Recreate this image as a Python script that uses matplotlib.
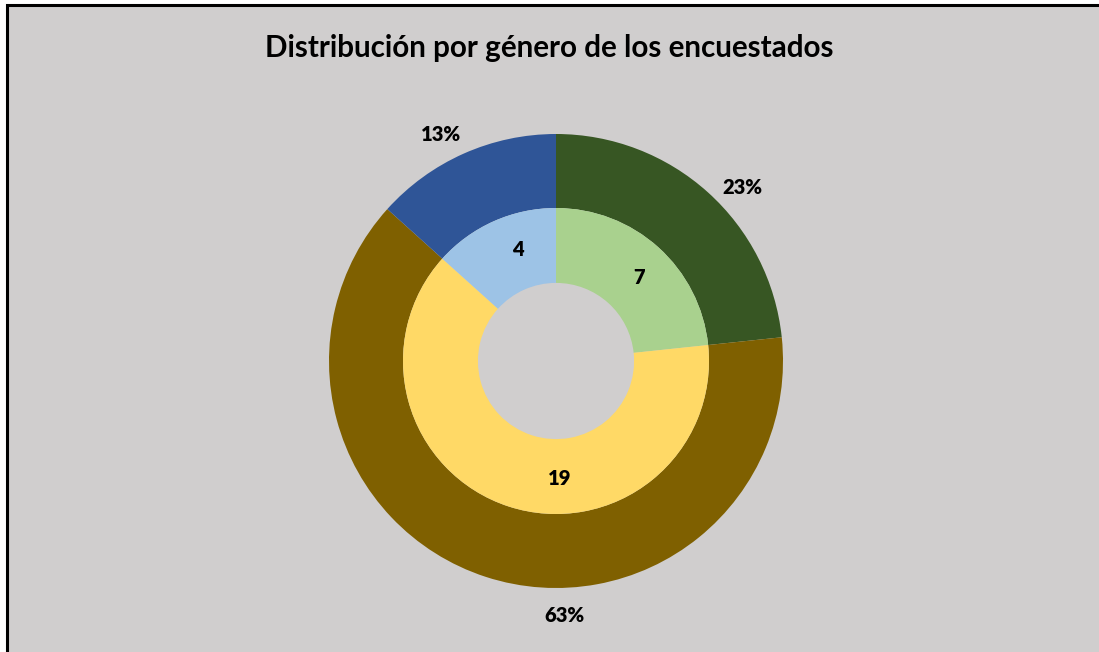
import numpy as np
import matplotlib.pyplot as plt
from matplotlib.patches import Rectangle

# Data
categories = ['Grupo 1', 'Grupo 2', 'Grupo 3']
counts = [7, 19, 4]
percent_labels = ['23%', '63%', '13%']

outer_colors = ['#375623', '#7F6000', '#2F5597']
inner_colors = ['#A9D18E', '#FFD966', '#9DC3E6']
bg = '#D0CECE'

# label placement (angle in degrees, as in the original layout)
inner_angles = [45, -88, 109]
outer_angles = [43, -88, 117]

plt.rcParams['font.family'] = ['Lato', 'DejaVu Sans']

fig = plt.figure(figsize=(10.99, 6.52), dpi=100)
fig.patch.set_facecolor('white')

# grey panel with black frame on left/top
fig.patches.append(Rectangle((6.5 / 1099, -0.1), 1.2, (652 - 5) / 652 + 0.1,
                             transform=fig.transFigure, facecolor=bg,
                             edgecolor='black', linewidth=2.2, zorder=-10))

W, H = 1099, 652
cx, cy, R = 556, 652 - 361, 227
ax = fig.add_axes([(cx - R) / W, (cy - R) / H, 2 * R / W, 2 * R / H])
ax.set_zorder(1)

ax.pie(counts, colors=outer_colors, radius=1.0, startangle=90, counterclock=False,
       wedgeprops=dict(width=0.326, linewidth=0))
ax.pie(counts, colors=inner_colors, radius=0.674, startangle=90, counterclock=False,
       wedgeprops=dict(width=0.33, linewidth=0))
ax.set_xlim(-1, 1)
ax.set_ylim(-1, 1)
ax.set_aspect('equal')
ax.axis('off')

for n, a in zip(counts, inner_angles):
    t = np.deg2rad(a)
    ax.text(0.52 * np.cos(t), 0.52 * np.sin(t), str(n), ha='center', va='center',
            fontsize=14.5, fontweight='heavy', color='black')

for lab, a in zip(percent_labels, outer_angles):
    t = np.deg2rad(a)
    ax.text(1.12 * np.cos(t), 1.12 * np.sin(t), lab, ha='center', va='center',
            fontsize=14.5, fontweight='heavy', color='black')

fig.text(549 / W, 1 - 48 / H, 'Distribución por género de los encuestados',
         ha='center', va='center', fontsize=21.3, fontweight='bold', color='black')

fig.savefig('out.png', dpi=100, facecolor=fig.get_facecolor())
